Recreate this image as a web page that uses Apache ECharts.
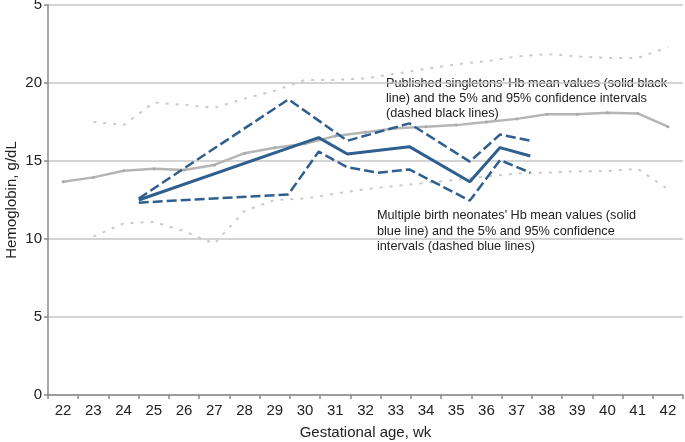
<!DOCTYPE html>
<html>
<head>
<meta charset="utf-8">
<script src="https://cdn.jsdelivr.net/npm/echarts@6/dist/echarts.min.js"></script>
<style>
html,body{margin:0;padding:0;background:#fff;}
#chart{width:685px;height:442px;}
</style>
</head>
<body>
<div id="chart"></div>
<script>
// Categories (gestational age, weeks)
const weeks = ['22','23','24','25','26','27','28','29','30','31','32','33','34','35','36','37','38','39','40','41','42'];
// Published singletons: mean, 95th and 5th percentile (g/dL)
const singletonMean = [13.67,13.95,14.38,14.5,14.42,14.75,15.5,15.85,16.1,16.6,16.85,17.1,17.2,17.3,17.5,17.7,18.0,18.0,18.1,18.05,17.2];
const singletonP95 = [null,17.5,17.3,18.75,18.6,18.4,19.0,19.5,20.2,20.2,20.3,20.6,20.9,21.2,21.4,21.7,21.85,21.7,21.6,21.6,22.3];
const singletonP5 = [null,10.15,11.0,11.1,10.5,9.7,11.8,12.5,12.6,12.9,13.2,13.4,13.6,13.8,14.0,14.2,14.25,14.35,14.35,14.5,13.2];
// Multiple birth neonates: [week, Hb]
const multiMean = [[24.5,12.5],[30.45,16.5],[31.4,15.45],[33.45,15.92],[35.45,13.67],[36.45,15.86],[37.45,15.32]];
const multiP95 = [[24.5,12.6],[29.45,18.95],[31.4,16.3],[33.45,17.41],[35.45,14.96],[36.45,16.7],[37.45,16.3]];
const multiP5 = [[24.5,12.33],[29.45,12.86],[30.45,15.6],[31.4,14.6],[32.4,14.25],[33.45,14.46],[35.45,12.46],[36.45,15.06],[37.45,14.25]];
// Y tick labels as printed
const yTickLabels = {0:'0',5:'5',10:'10',15:'15',20:'20',25:'5'};
const singletonNote = "Published singletons' Hb mean values (solid black\nline) and the 5% and 95% confidence intervals\n(dashed black lines)";
const multiNote = "Multiple birth neonates' Hb mean values (solid\nblue line) and the 5% and 95% confidence\nintervals (dashed blue lines)";

const FONT = 'Liberation Sans, Arial, Helvetica, sans-serif';
const blue = '#2f5f8e';
const chart = echarts.init(document.getElementById('chart'), null, {renderer:'canvas'});
chart.setOption({
  animation:false,
  backgroundColor:'#fff',
  textStyle:{fontFamily:FONT},
  grid:{left:48,right:2,top:5,bottom:47,containLabel:false,outerBoundsMode:'none'},
  xAxis:[{
    type:'category', data:weeks, boundaryGap:true,
    name:'Gestational age, wk', nameLocation:'middle', nameGap:30, nameMoveOverlap:false,
    nameTextStyle:{fontSize:15,color:'#222',fontFamily:FONT},
    axisLine:{lineStyle:{color:'#8a8a8a',width:1.5}},
    axisTick:{show:true,alignWithLabel:false,length:4,lineStyle:{color:'#8a8a8a',width:1.5}},
    axisLabel:{fontSize:15,color:'#222',margin:8,interval:0,fontFamily:FONT},
    splitLine:{show:false}
  },{
    type:'value', min:21.5, max:42.5, show:false
  }],
  yAxis:{
    type:'value', min:0, max:25, interval:5,
    name:'Hemoglobin, g/dL', nameLocation:'middle', nameGap:29, nameMoveOverlap:false,
    nameTextStyle:{fontSize:15,color:'#222',fontFamily:FONT},
    axisLine:{show:true,lineStyle:{color:'#8a8a8a',width:1.5}},
    axisTick:{show:true,length:4,lineStyle:{color:'#8a8a8a',width:1.5}},
    axisLabel:{fontSize:15,color:'#222',margin:6,fontFamily:FONT,formatter:v=>yTickLabels[v]},
    splitLine:{lineStyle:{color:'#c6c6c6',width:1.5}}
  },
  series:[
    {type:'line',data:singletonP95,xAxisIndex:0,showSymbol:false,lineStyle:{color:'#cacaca',width:2,type:[3,7]},z:2},
    {type:'line',data:singletonP5,xAxisIndex:0,showSymbol:false,lineStyle:{color:'#cacaca',width:2,type:[3,7]},z:2},
    {type:'line',data:singletonMean,xAxisIndex:0,symbol:'circle',symbolSize:3,itemStyle:{color:'#a8a8a8'},lineStyle:{color:'#b5b5b5',width:2.5},z:3},
    {type:'line',data:multiP95,xAxisIndex:1,showSymbol:false,lineStyle:{color:blue,width:2.5,type:[10,4]},z:4},
    {type:'line',data:multiP5,xAxisIndex:1,showSymbol:false,lineStyle:{color:blue,width:2.5,type:[10,4]},z:4},
    {type:'line',data:multiMean,xAxisIndex:1,showSymbol:false,lineStyle:{color:blue,width:3},z:5}
  ],
  graphic:[
    {type:'text',left:386,top:76,style:{text:singletonNote,font:'12.7px '+FONT,fill:'#222',lineHeight:15}},
    {type:'text',left:377,top:208,style:{text:multiNote,font:'12.7px '+FONT,fill:'#222',lineHeight:15.5}}
  ]
});
</script>
</body>
</html>
